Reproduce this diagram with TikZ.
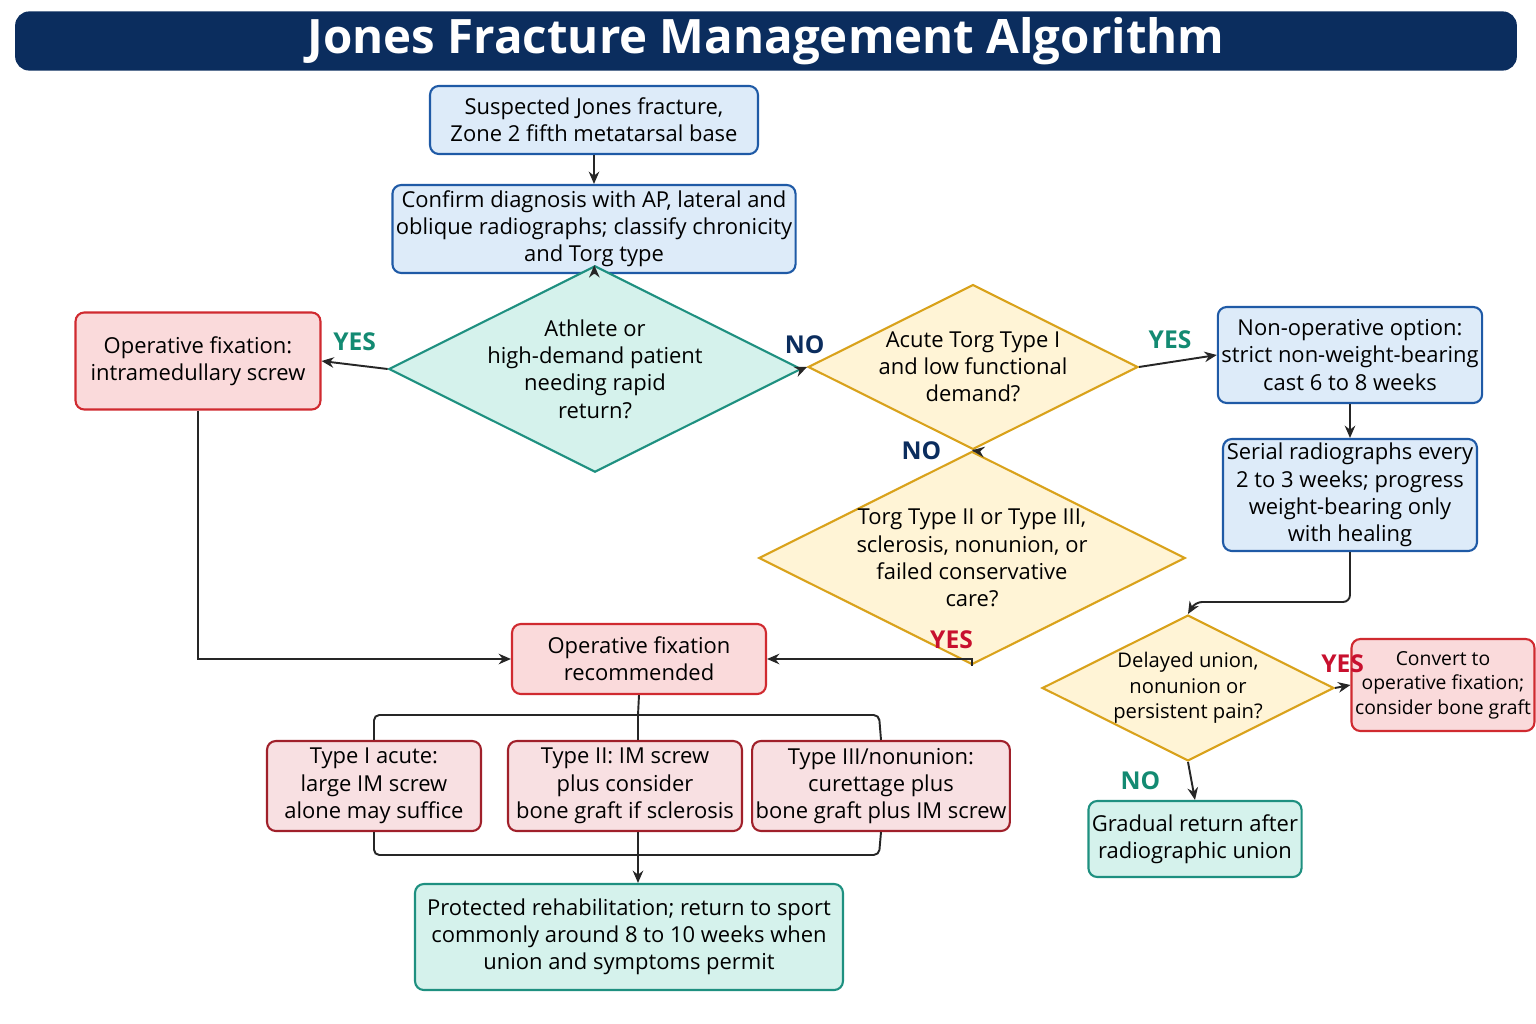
\documentclass[tikz,border=0pt]{standalone}
\usepackage{fontspec}
\setmainfont{Open Sans}
\usetikzlibrary{shapes.geometric,arrows.meta}
\definecolor{navy}{HTML}{0B2D5E}
\definecolor{bluefill}{HTML}{DDEBF9}
\definecolor{blueline}{HTML}{1F5AA6}
\definecolor{tealfill}{HTML}{D5F2EC}
\definecolor{tealline}{HTML}{1E9080}
\definecolor{redfill}{HTML}{FADADB}
\definecolor{redline}{HTML}{D02A30}
\definecolor{wine}{HTML}{A0202A}
\definecolor{winefill}{HTML}{F8E0E2}
\definecolor{yelfill}{HTML}{FFF4D6}
\definecolor{yelline}{HTML}{D9A21B}
\definecolor{yesteal}{HTML}{138A72}
\definecolor{yesred}{HTML}{C8102E}
\tikzset{
  box/.style={rectangle,rounded corners=5pt,line width=1.2pt,align=center,font=\fontsize{12.5}{15.5}\selectfont,inner sep=2pt},
  bluebox/.style={box,draw=blueline,fill=bluefill},
  tealbox/.style={box,draw=tealline,fill=tealfill},
  redbox/.style={box,draw=redline,fill=redfill},
  winebox/.style={box,draw=wine,fill=winefill},
  choice/.style={diamond,aspect=2,line width=1.2pt,align=center,font=\fontsize{12.5}{15.5}\selectfont,inner sep=0pt},
  tealchoice/.style={choice,draw=tealline,fill=tealfill},
  yelchoice/.style={choice,draw=yelline,fill=yelfill},
  link/.style={line width=1.1pt,draw=black!85,-{Stealth[length=7pt,width=6pt]}},
  plain/.style={line width=1.1pt,draw=black!85},
  lbl/.style={font=\bfseries\fontsize{14}{16}\selectfont}
}
\begin{document}
\begin{tikzpicture}[x=0.02cm,y=-0.02cm]
\useasboundingbox (0,0) rectangle (1536,1024);
\node (title) at (766,41) [rectangle,rounded corners=8pt,fill=navy,minimum width=30.04cm,minimum height=1.16cm,text=white,font=\bfseries\fontsize{27}{30}\selectfont] {Jones Fracture Management Algorithm};

\node (susp) at (594,120) [bluebox,minimum width=6.56cm,minimum height=1.36cm] {Suspected Jones fracture,\\Zone 2 fifth metatarsal base};
\node (conf) at (594,229) [bluebox,minimum width=7.48cm,minimum height=1.76cm] {Confirm diagnosis with AP, lateral and\\oblique radiographs; classify chronicity\\and Torg type};
\node (athl) at (595,369) [tealchoice,minimum width=5.6cm,minimum height=2.68cm] {Athlete or\\high-demand patient\\needing rapid\\return?};
\node (opint) at (198,361) [redbox,minimum width=4.9cm,minimum height=1.94cm] {Operative fixation:\\intramedullary screw};
\node (acute) at (973,367) [yelchoice,minimum width=5.12cm,minimum height=2.96cm] {Acute Torg Type I\\and low functional\\demand?};
\node (nonop) at (1350,355) [bluebox,minimum width=5.08cm,minimum height=1.92cm] {Non-operative option:\\strict non-weight-bearing\\cast 6 to 8 weeks};
\node (serial) at (1350,495) [bluebox,minimum width=5.08cm,minimum height=2.24cm] {Serial radiographs every\\2 to 3 weeks; progress\\weight-bearing only\\with healing};
\node (torg) at (972,558) [yelchoice,minimum width=5.84cm,minimum height=3.32cm] {Torg Type II or Type III,\\sclerosis, nonunion, or\\failed conservative\\care?};
\node (oprec) at (639,659) [redbox,minimum width=5.08cm,minimum height=1.4cm] {Operative fixation\\recommended};
\node (typea) at (374,786) [winebox,minimum width=4.28cm,minimum height=1.8cm] {Type I acute:\\large IM screw\\alone may suffice};
\node (typeb) at (625,786) [winebox,minimum width=4.68cm,minimum height=1.8cm] {Type II: IM screw\\plus consider\\bone graft if sclerosis};
\node (typec) at (881,786) [winebox,minimum width=4.56cm,minimum height=1.8cm] {Type III/nonunion:\\curettage plus\\bone graft plus IM screw};
\node (rehab) at (629,937) [tealbox,minimum width=8.56cm,minimum height=2.12cm] {Protected rehabilitation; return to sport\\commonly around 8 to 10 weeks when\\union and symptoms permit};
\node (delay) at (1188,688) [yelchoice,minimum width=4.12cm,minimum height=2.84cm,font=\fontsize{11.5}{14.5}\selectfont] {Delayed union,\\nonunion or\\persistent pain?};
\node (convert) at (1443,685) [redbox,minimum width=3.36cm,minimum height=1.84cm,font=\fontsize{11}{14}\selectfont] {Convert to\\operative fixation;\\consider bone graft};
\node (gradual) at (1195,839) [tealbox,minimum width=4.2cm,minimum height=1.52cm] {Gradual return after\\radiographic union};

\coordinate (jleft) at (374,715);
\coordinate (jright) at (879,715);
\coordinate (jmid) at (638,715);
\coordinate (kleft) at (374,855);
\coordinate (kright) at (879,855);
\coordinate (kmid) at (638,855);

\draw[link] (susp) -- (conf);
\draw[link] (conf) -- (athl);
\draw[link] (athl.west) -- node[lbl,text=yesteal,above=4pt,pos=0.5] {YES} (opint.east);
\draw[link] (athl.east) -- node[lbl,text=navy,above=4pt,pos=0.5] {NO} (acute.west);
\draw[link] (acute.east) -- node[lbl,text=yesteal,above=4pt,pos=0.4] {YES} (nonop.west);
\draw[link] (acute.south) -- node[lbl,text=navy,left=14pt] {NO} (torg.north);
\draw[link] (torg.south) |- node[lbl,text=yesred,above=2pt,pos=0.55] {YES} (oprec.east);
\draw[link] (opint.south) |- (oprec.west);
\draw[link] (nonop) -- (serial);
\draw[link,rounded corners=4pt] (serial.south) -- (1350,602) -- (1195,602) -- (delay.north);
\draw[link] (delay.east) -- node[lbl,text=yesred,above=4pt] {YES} (convert.west);
\draw[link] (delay.south) -- node[lbl,text=yesteal,left=14pt] {NO} (gradual.north);

\draw[plain,rounded corners=3pt] (typea.north) -- (jleft) -- (jright) -- (typec.north);
\draw[plain] (oprec.south) -- (jmid) -- (typeb.north -| jmid);
\draw[plain,rounded corners=3pt] (typea.south) -- (kleft) -- (kright) -- (typec.south);
\draw[plain] (typeb.south -| kmid) -- (kmid);
\draw[link] (kmid) -- (rehab.north -| kmid);
\end{tikzpicture}
\end{document}
